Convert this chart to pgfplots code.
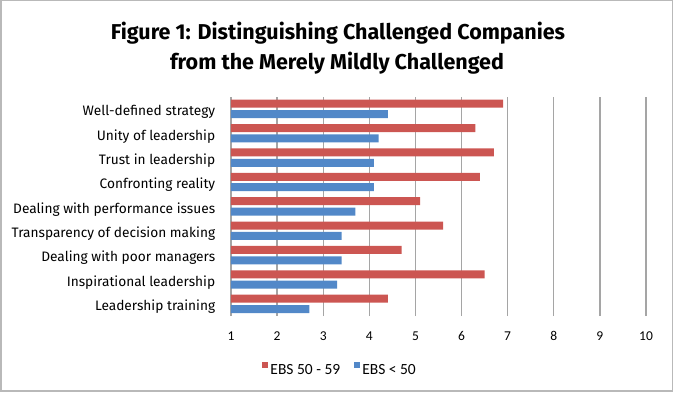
\documentclass[border=0pt]{standalone}
\usepackage{pgfplots}
\pgfplotsset{compat=1.18}
\usepackage{fontspec}
\setmainfont{Fira Sans}
\newfontfamily\calib{Carlito}
\definecolor{redbar}{RGB}{204,86,82}
\definecolor{bluebar}{RGB}{82,136,200}
\definecolor{gridc}{RGB}{165,165,165}
\begin{document}
\begin{tikzpicture}
\path[use as bounding box] (0pt,0pt) rectangle (675pt,394pt);
\draw[gray!55, line width=1.6pt] (1pt,3pt) rectangle (672.5pt,393.4pt);
\node[anchor=base] at (338pt,354pt) {\bfseries\fontsize{21.5}{26}\selectfont Figure 1: Distinguishing Challenged Companies};
\node[anchor=base] at (337pt,324pt) {\bfseries\fontsize{21.5}{26}\selectfont from the Merely Mildly Challenged};
\coordinate (O) at (231pt,78pt);
\begin{axis}[
  at={(O)}, anchor=south west,
  scale only axis, width=415pt, height=219.3pt,
  xmin=1, xmax=10, ymin=-0.5, ymax=8.5,
  xbar, bar width=8pt,
  xtick={1,...,10},
  ytick={0,...,8},
  yticklabels={Leadership training, Inspirational leadership, Dealing with poor managers, Transparency of decision making, Dealing with performance issues, Confronting reality, Trust in leadership, Unity of leadership, Well-defined strategy},
  /pgf/number format/assume math mode=true,
  xmajorgrids, grid style={gridc, line width=1.3pt},
  axis line style={draw=none},
  tick style={draw=none},
  xticklabel style={font=\calib\fontsize{13.5}{15}\selectfont, yshift=-12pt},
  yticklabel style={font=\fontsize{13.7}{15}\selectfont, xshift=-8pt, yshift=-3pt},
  legend style={at={(0.263,-0.245)}, anchor=center, draw=none, legend columns=2, font=\calib\fontsize{15.5}{17}\selectfont, /tikz/every even column/.append style={column sep=12pt}},
  legend image code/.code={\fill[#1] (0pt,2pt) rectangle (6pt,8pt);},
]
\addplot[fill=redbar, draw=none, bar shift=5.2pt] coordinates {(6.9,8) (6.3,7) (6.7,6) (6.4,5) (5.1,4) (5.6,3) (4.7,2) (6.5,1) (4.4,0)};
\addplot[fill=bluebar, draw=none, bar shift=-5.2pt] coordinates {(4.4,8) (4.2,7) (4.1,6) (4.1,5) (3.7,4) (3.4,3) (3.4,2) (3.3,1) (2.7,0)};
\legend{EBS 50 - 59, EBS < 50}
\end{axis}
\end{tikzpicture}
\end{document}
